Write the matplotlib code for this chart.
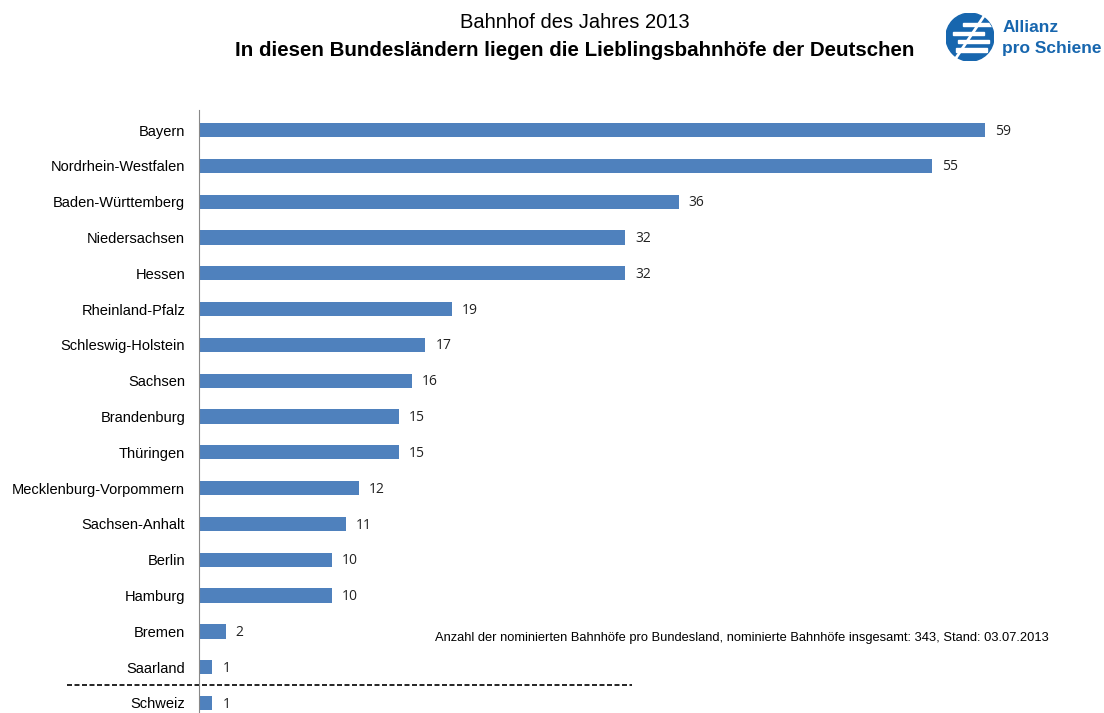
import matplotlib.pyplot as plt
from matplotlib.patches import Circle, Rectangle
import numpy as np

plt.rcParams['font.family'] = ['Liberation Sans', 'DejaVu Sans']

states = ["Bayern", "Nordrhein-Westfalen", "Baden-Württemberg", "Niedersachsen",
          "Hessen", "Rheinland-Pfalz", "Schleswig-Holstein", "Sachsen",
          "Brandenburg", "Thüringen", "Mecklenburg-Vorpommern", "Sachsen-Anhalt",
          "Berlin", "Hamburg", "Bremen", "Saarland", "Schweiz"]
counts = [59, 55, 36, 32, 32, 19, 17, 16, 15, 15, 12, 11, 10, 10, 2, 1, 1]

bar_color = "#4F81BD"
logo_blue = "#1766AE"

fig = plt.figure(figsize=(11.04, 7.13), dpi=100)
ax = fig.add_axes([0.1803, 0.0, 0.7722, 0.8457])

pos = np.arange(len(states))
ax.barh(pos, counts, height=0.4, color=bar_color)
for p, v in zip(pos, counts):
    ax.text(v + 0.75, p + 0.03, str(v), va="center", ha="left", fontsize=10,
            family=["Open Sans", "DejaVu Sans"], color="#222222")

ax.set_xlim(0, 64)
ax.set_ylim(16.28, -0.56)
ax.set_yticks(pos)
ax.set_yticklabels(states, fontsize=10.5)
ax.tick_params(axis="y", length=0, pad=10)
ax.set_xticks([])
for s in ["top", "right", "bottom"]:
    ax.spines[s].set_visible(False)
ax.spines["left"].set_color("#888888")

# separator between Bundesländer and Schweiz
ax.plot([-9.9, 32.5], [15.5, 15.5], color="black", linestyle=(0, (3, 1.5)),
        linewidth=1.2, clip_on=False)

fig.text(0.521, 0.969, "Bahnhof des Jahres 2013", ha="center", va="center", fontsize=14.5)
fig.text(0.521, 0.929, "In diesen Bundesländern liegen die Lieblingsbahnhöfe der Deutschen",
         ha="center", va="center", fontsize=14.8, fontweight="bold")
fig.text(0.394, 0.105,
         "Anzahl der nominierten Bahnhöfe pro Bundesland, nominierte Bahnhöfe insgesamt: 343, Stand: 03.07.2013",
         ha="left", va="center", fontsize=9.25)

# logo
lax = fig.add_axes([0.8568, 0.9143, 0.0435, 0.0673])
lax.set_xlim(-1, 1)
lax.set_ylim(-1, 1)
lax.set_aspect("equal")
lax.axis("off")
circ = Circle((0, 0), 1, color=logo_blue)
lax.add_patch(circ)
for yy, x0 in zip([0.45, 0.1, -0.25, -0.6], [-0.3, -0.7, -0.5, -0.6]):
    r = Rectangle((x0, yy), 1.3, 0.13, color="white")
    r.set_clip_path(circ)
    lax.add_patch(r)
lax.plot([-0.6, 0.6], [-0.9, 0.9], color="white", linewidth=2)
fig.text(0.908, 0.962, "Allianz", ha="left", va="center", fontsize=12.5,
         fontweight="bold", color=logo_blue)
fig.text(0.908, 0.932, "pro Schiene", ha="left", va="center", fontsize=12.5,
         fontweight="bold", color=logo_blue)

fig.savefig("out.png", dpi=100)
